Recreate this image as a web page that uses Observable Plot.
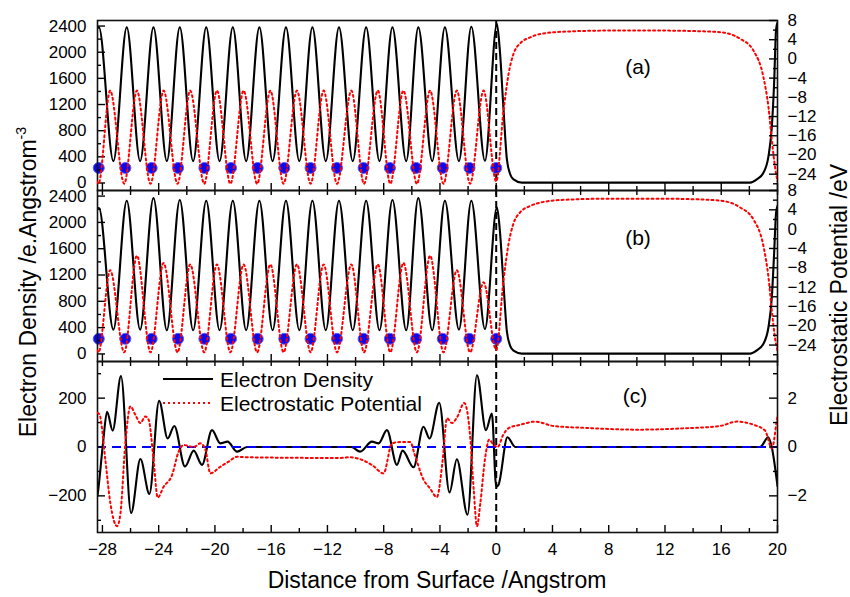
<!DOCTYPE html>
<html><head><meta charset="utf-8">
<script src="https://cdn.jsdelivr.net/npm/d3@7"></script>
<script src="https://cdn.jsdelivr.net/npm/@observablehq/plot@0.6"></script>
<style>
body{margin:0;background:#fff;}
#wrap{position:relative;width:850px;height:597px;font-family:"Liberation Sans",Arial,sans-serif;color:#000;overflow:hidden;}
#wrap svg.plot{position:absolute;left:0;top:0;}
.t{position:absolute;white-space:nowrap;line-height:1;}
.rot{transform:translate(-50%,-50%) rotate(-90deg);}
.ctr{transform:translate(-50%,-50%);}
</style></head><body><div id="wrap"></div>
<script>
// ---------------- data ----------------
const xMajor = [-28,-24,-20,-16,-12,-8,-4,0,4,8,12,16,20];
const xMinor = [-26,-22,-18,-14,-10,-6,-2,2,6,10,14,18];
const densLabels = [0,400,800,1200,1600,2000,2400];
const densMinor = [200,600,1000,1400,1800,2200];
const potLabels = [-24,-20,-16,-12,-8,-4,0,4,8];
const potMinor = [-26,-22,-18,-14,-10,-6,-2,2,6];
const diffLabels = [-200,0,200];
const diffMinor = [-300,-100,100,300];
const dpotLabels = [-2,0,2];
const dpotMinor = [-3,-1,1,3];

// atomic layer positions (blue dots)
const atomX = [-28.26,-26.37,-24.5,-22.62,-20.75,-18.86,-16.96,-15.07,-13.2,-11.32,-9.43,-7.56,-5.69,-3.8,-1.9,0];
const atomYA = [230,230,230,230,230,230,230,230,230,230,230,230,230,230,230,230];
const atomYB = [230,230,230,230,230,230,230,230,230,230,230,230,230,230,230,230];

// (a) electron density [x, value]
const densA = [[-28.4,2360],[-28.25,2380],[-27.22,335],[-26.27,2380],[-25.32,335],[-24.37,2380],[-23.42,335],[-22.5,2380],[-21.55,335],[-20.62,2380],[-19.67,335],[-18.73,2380],[-17.78,335],[-16.84,2380],[-15.9,335],[-14.95,2380],[-14.0,335],[-13.07,2380],[-12.12,335],[-11.18,2380],[-10.2,335],[-9.25,2380],[-8.3,335],[-7.38,2380],[-6.4,335],[-5.54,2380],[-4.55,335],[-3.65,2380],[-2.65,335],[-1.77,2390],[-0.8,340],[0.05,2430],[0.25,2050],[0.52,1120],[0.76,360],[1.0,130],[1.23,54],[1.82,5],[18.05,5],[18.53,54],[19.0,156],[19.36,410],[19.6,870],[19.76,1530],[19.9,2350],[20.0,2450]];
// (a) electrostatic potential [x, eV]
const potA = [[-28.4,-25.5],[-28.28,-26],[-27.45,-6.6],[-26.45,-26],[-25.55,-6.6],[-24.58,-26],[-23.65,-6.6],[-22.66,-26],[-21.76,-6.6],[-20.76,-26],[-19.86,-6.6],[-18.9,-26],[-17.96,-6.6],[-17.0,-26],[-16.06,-6.6],[-15.12,-26],[-14.17,-6.6],[-13.2,-26],[-12.27,-6.6],[-11.32,-26],[-10.3,-6.6],[-9.4,-26],[-8.42,-6.6],[-7.53,-26],[-6.6,-6.6],[-5.64,-26],[-4.7,-6.6],[-3.75,-26],[-2.8,-6.6],[-1.86,-26],[-0.9,-6.6],[0,-25.5],[0.52,-10.8],[0.88,-3.1],[1.23,1.05],[1.71,3.26],[2.42,4.5],[3.13,5.2],[5,5.7],[8,5.9],[11.66,5.9],[14,5.8],[15.92,5.56],[17.34,4.2],[18.29,1.74],[19.0,-3.8],[19.36,-10.1],[19.6,-17],[19.83,-22.6],[19.95,-24.7],[20,-25.5]];

// (b) electron density
const densB = [[-28.4,2180],[-28.25,2220],[-27.22,370],[-26.27,2330],[-25.32,370],[-24.37,2370],[-23.42,360],[-22.5,2340],[-21.55,360],[-20.62,2330],[-19.67,360],[-18.73,2330],[-17.78,360],[-16.84,2330],[-15.9,360],[-14.95,2330],[-14.0,360],[-13.07,2330],[-12.12,360],[-11.18,2330],[-10.2,360],[-9.25,2330],[-8.3,360],[-7.38,2340],[-6.4,360],[-5.54,2370],[-4.55,360],[-3.65,2330],[-2.65,370],[-1.77,2330],[-0.8,380],[0.05,2230],[0.25,1900],[0.52,1050],[0.76,340],[1.0,120],[1.23,50],[1.82,5],[18.05,5],[18.53,54],[19.0,156],[19.36,410],[19.6,870],[19.76,1530],[19.9,2150],[20.0,2250]];
// (b) electrostatic potential
const potB = [[-28.4,-25],[-28.28,-25.5],[-27.45,-8.5],[-26.45,-25.5],[-25.55,-5.5],[-24.58,-25.5],[-23.65,-7],[-22.66,-25.5],[-21.76,-7.3],[-20.76,-25.5],[-19.86,-7.3],[-18.9,-25.5],[-17.96,-7.3],[-17.0,-25.5],[-16.06,-7.3],[-15.12,-25.5],[-14.17,-7.3],[-13.2,-25.5],[-12.27,-7.3],[-11.32,-25.5],[-10.3,-7.3],[-9.4,-25.5],[-8.42,-7.3],[-7.53,-25.5],[-6.6,-7],[-5.64,-25.5],[-4.7,-5.5],[-3.75,-25.5],[-2.8,-8.5],[-1.86,-25.5],[-0.9,-11],[0,-25],[0.52,-10.5],[0.88,-3],[1.23,1.2],[1.71,3.5],[2.42,4.8],[3.13,5.5],[5,6.1],[8,6.3],[11.66,6.3],[14,6.2],[15.92,5.9],[17.34,4.5],[18.29,2],[19.0,-3.5],[19.36,-10],[19.6,-17],[19.83,-22.6],[19.95,-24.5],[20,-25.2]];

// (c) electron density difference
const densC = [[-28.35,-200],[-28.27,-162],[-27.95,20],[-27.67,144],[-27.27,67],[-26.68,290],[-25.96,-270],[-25.3,-49],[-24.66,-192],[-23.97,189],[-23.36,35],[-22.89,86],[-22.13,-80],[-21.51,-15],[-20.92,-73],[-20.21,69],[-19.62,15],[-19.1,22],[-18.43,-19],[-17.72,0],[-10.3,0],[-9.67,-19],[-8.84,22],[-8.36,15],[-7.77,69],[-7.06,-73],[-6.66,-15],[-5.88,-83],[-5.17,83],[-4.74,35],[-4.05,181],[-3.32,-186],[-2.8,-50],[-2.04,-277],[-1.37,294],[-0.73,69],[-0.31,137],[0.0,-162],[0.16,-155],[0.8,40],[1.35,0],[18.76,0],[19.35,40],[19.59,0],[20.0,-160]];
// (c) electrostatic potential difference
const potC = [[-28.35,1.4],[-28.2,1.32],[-27.79,-0.54],[-27.43,-2.32],[-26.96,-3.24],[-26.72,-2.72],[-26.37,0.15],[-26.01,1.66],[-25.66,1.32],[-25.3,0.98],[-24.95,1.25],[-24.71,1.11],[-24.36,-0.54],[-24.07,-2.07],[-23.65,-1.63],[-23.05,-1.15],[-22.58,-0.19],[-22.22,0.08],[-21.51,0.0],[-21.04,0.15],[-20.68,-0.1],[-20.33,-1.08],[-19.62,-0.81],[-19.03,-0.6],[-18.43,-0.4],[-17.72,-0.42],[-11.09,-0.45],[-10.4,-0.42],[-9.67,-0.5],[-8.8,-0.75],[-8.01,-1.08],[-7.41,0.15],[-6.9,0.2],[-6.11,0.2],[-5.8,-0.3],[-5.2,-1.3],[-4.7,-1.7],[-4.22,-2.05],[-3.8,-0.5],[-3.5,1.18],[-3.15,0.98],[-2.8,1.2],[-2.27,1.8],[-1.84,0.35],[-1.6,-1.75],[-1.37,-3.24],[-1.13,-2.3],[-0.8,-0.5],[-0.5,0.3],[-0.2,0.1],[0.1,0.0],[0.5,0.5],[0.88,0.77],[1.71,0.91],[2.77,1.04],[4.07,0.86],[6.45,0.78],[10.0,0.71],[13.55,0.77],[15.92,0.86],[17.1,1.04],[18.29,0.91],[19.12,0.67],[19.6,-0.05],[19.95,1.1],[20,1.3]];

// ---------------- layout ----------------
const W = 850, H = 597, ML = 97, MR = 73;
const xDomain = [-28.35, 20];
const FONT = "'Liberation Sans', Arial, sans-serif";
const fmt = d3.format("d");
const wrap = document.getElementById("wrap");
const DOT = "2,3";

const panels = [
  {top: 20, bottom: 190, yL: [-115, 2485], yR: [-27.4, 8],
   lMaj: densLabels, lMin: densMinor, rMaj: potLabels, rMin: potMinor,
   dens: densA, pot: potA, atomsY: atomYA, topTicks: false, xAxis: false},
  {top: 190, bottom: 361, yL: [-115, 2485], yR: [-27.4, 8],
   lMaj: densLabels, lMin: densMinor, rMaj: potLabels, rMin: potMinor,
   dens: densB, pot: potB, atomsY: atomYB, topTicks: true, xAxis: false},
  {top: 361, bottom: 532, yL: [-350, 350], yR: [-3.5, 3.5],
   lMaj: diffLabels, lMin: diffMinor, rMaj: dpotLabels, rMin: dpotMinor,
   dens: densC, pot: potC, atomsY: null, topTicks: true, xAxis: true}
];

function draw(p, side) {
  const h = p.bottom - p.top, w = W - ML - MR;
  const left = side === "left";
  const tk = {stroke: "#000", strokeWidth: 1.4};
  const marks = [];
  if (left) {
    marks.push(Plot.ruleX([0], {stroke: "#000", strokeWidth: 2, strokeDasharray: "7,4"}));
    if (p.atomsY) marks.push(Plot.dot(atomX.map((x, i) => [x, p.atomsY[i]]), {x: "0", y: "1", r: 5.5, fill: "#0a0af0", stroke: "#5a5aff", strokeWidth: 1}));
    marks.push(Plot.line(p.dens, {x: "0", y: "1", stroke: "#000", strokeWidth: 2.1, curve: "monotone-x", clip: true}));
    if (!p.atomsY) marks.push(Plot.ruleY([0], {stroke: "#0000ff", strokeWidth: 2, strokeDasharray: "9,6"}));
    marks.push(Plot.tickX(xMajor, {x: d => d, insetTop: h - 7, ...tk}));
    marks.push(Plot.tickX(xMinor, {x: d => d, insetTop: h - 4, ...tk}));
    if (p.topTicks) {
      marks.push(Plot.tickX(xMajor, {x: d => d, insetBottom: h - 5, ...tk}));
      marks.push(Plot.tickX(xMinor, {x: d => d, insetBottom: h - 5, ...tk}));
    }
    marks.push(Plot.tickY(p.lMaj, {y: d => d, insetRight: w - 8, ...tk}));
    marks.push(Plot.tickY(p.lMin, {y: d => d, insetRight: w - 4, ...tk}));
    marks.push(Plot.frame({stroke: "#111", strokeWidth: 1.6}));
  } else {
    marks.push(Plot.line(p.pot, {x: "0", y: "1", stroke: "#ff0000", strokeWidth: 2, strokeDasharray: DOT, curve: "monotone-x", clip: true}));
    marks.push(Plot.tickY(p.rMaj, {y: d => d, insetLeft: w - 8, ...tk}));
    marks.push(Plot.tickY(p.rMin, {y: d => d, insetLeft: w - 4, ...tk}));
  }
  const svg = Plot.plot({
    width: W, height: H,
    marginTop: p.top, marginBottom: H - p.bottom, marginLeft: ML, marginRight: MR,
    x: {domain: xDomain, axis: (left && p.xAxis) ? "bottom" : null, ticks: xMajor, tickSize: 0, tickPadding: 10, tickFormat: fmt, label: null},
    y: {domain: left ? p.yL : p.yR, axis: left ? "left" : "right", ticks: left ? p.lMaj : p.rMaj, tickSize: 0, tickPadding: left ? 11 : 10, tickFormat: fmt, label: null},
    style: {fontFamily: FONT, fontSize: "17px", background: "transparent", color: "#000", overflow: "visible"},
    marks
  });
  svg.classList.add("plot");
  wrap.appendChild(svg);
}
for (const p of panels) { draw(p, "left"); draw(p, "right"); }

// ---------------- text & legend ----------------
function txt(html, x, y, size, cls) {
  const d = document.createElement("div");
  d.className = "t " + cls;
  d.style.left = x + "px"; d.style.top = y + "px"; d.style.fontSize = size + "px";
  d.innerHTML = html;
  wrap.appendChild(d);
}
txt("Electron Density /e.Angstrom<sup style='font-size:0.62em;vertical-align:0.75em'>-3</sup>", 27, 282, 23, "rot");
txt("Electrostatic Potential /eV", 839, 295, 23, "rot");
txt("Distance from Surface /Angstrom", 437, 580, 23, "ctr");
txt("(a)", 638, 66, 21, "ctr");
txt("(b)", 638, 237, 21, "ctr");
txt("(c)", 635, 395, 21, "ctr");
txt("Electron Density", 220, 379, 21, "lg");
txt("Electrostatic Potential", 220, 403, 21, "lg");
document.querySelectorAll(".lg").forEach(e => e.style.transform = "translateY(-50%)");
const ns = "http://www.w3.org/2000/svg";
const lsvg = document.createElementNS(ns, "svg");
lsvg.setAttribute("width", 60); lsvg.setAttribute("height", 40);
lsvg.style.position = "absolute"; lsvg.style.left = "160px"; lsvg.style.top = "370px";
lsvg.innerHTML = '<line x1="3" x2="53" y1="9" y2="9" stroke="#000" stroke-width="2"/><line x1="3" x2="53" y1="33" y2="33" stroke="#f00" stroke-width="2" stroke-dasharray="2,3"/>';
wrap.appendChild(lsvg);
</script></body></html>
